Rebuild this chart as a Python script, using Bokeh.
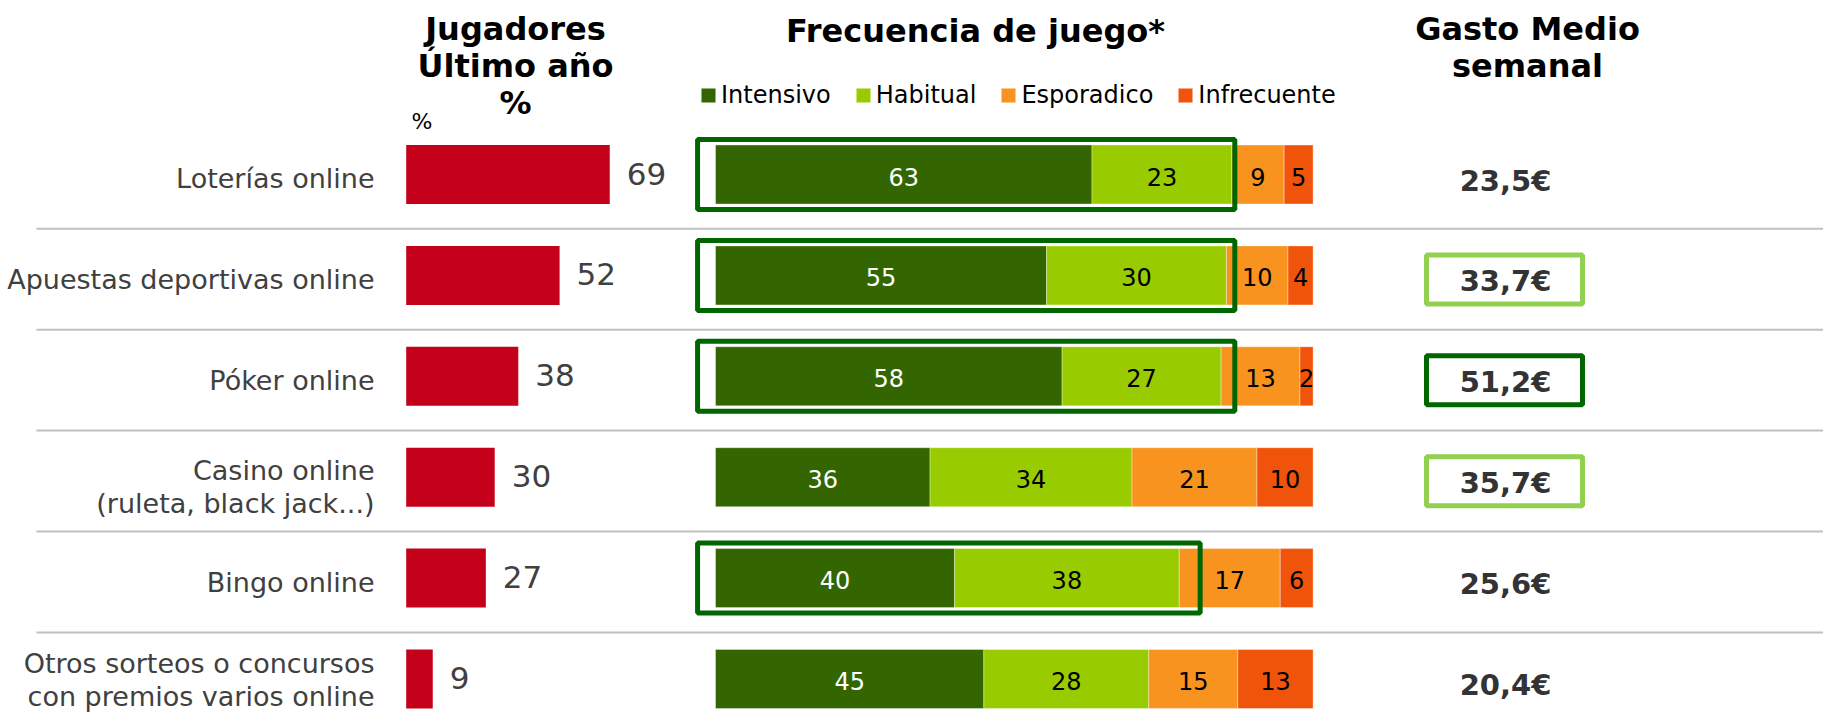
from bokeh.plotting import figure
from bokeh.models import ColumnDataSource, Range1d, Legend, LegendItem
from bokeh.embed import file_html
from bokeh.resources import INLINE
from bokeh.core.properties import value

# ---------------- data ----------------
categories = [
    "Loterías online",
    "Apuestas deportivas online",
    "Póker online",
    "Casino online\n(ruleta, black jack...)",
    "Bingo online",
    "Otros sorteos o concursos\ncon premios varios online",
]
jugadores = [69, 52, 38, 30, 27, 9]

series = ["Intensivo", "Habitual", "Esporadico", "Infrecuente"]
intensivo = [63.0, 55.4, 58.0, 35.9, 40.0, 44.9]
habitual = [23.4, 30.1, 26.6, 33.8, 37.6, 27.6]
esporadico = [8.75, 10.3, 13.2, 20.9, 16.9, 14.9]
infrecuente = [4.85, 4.2, 2.2, 9.4, 5.5, 12.6]

intensivo_lbl = ["63", "55", "58", "36", "40", "45"]
habitual_lbl = ["23", "30", "27", "34", "38", "28"]
esporadico_lbl = ["9", "10", "13", "21", "17", "15"]
infrecuente_lbl = ["5", "4", "2", "10", "6", "13"]

gasto = ["23,5€", "33,7€", "51,2€", "35,7€", "25,6€", "20,4€"]
gasto_marco = [None, "claro", "oscuro", "claro", None, None]
frecuencia_marco_fin = [86.9, 86.9, 86.9, None, 81.1, None]

# ---------------- layout / style ----------------
FIG_W, FIG_H = 1823, 713
ROW0, ROW_PX = 174.0, 100.9
BAR_H = 59 / ROW_PX
RED_X0, RED_SCALE = 405.7, 2.95
FREQ_X0, FREQ_SCALE = 715.0, 5.976
FONT = value("DejaVu Sans")
TXT = "#404040"
colors = ["#336600", "#99CC00", "#F7931E", "#F0540A"]
RED = "#C4001A"
DARK_GREEN = "#006600"
LIGHT_GREEN = "#92D050"
LABEL_PX = 27
LINE_GAP = 33.5

rows = list(range(len(categories)))


def py(px):
    return (px - ROW0) / ROW_PX


p = figure(
    width=FIG_W, height=FIG_H,
    x_range=Range1d(0, FIG_W),
    y_range=Range1d(start=py(FIG_H), end=py(0)),
    output_backend="svg", toolbar_location=None,
    min_border=0, x_axis_type=None, y_axis_type=None,
    outline_line_color=None, background_fill_color="white",
)
p.extra_y_ranges = {"px": Range1d(start=FIG_H, end=0)}
p.extra_x_ranges = {
    "red": Range1d(-RED_X0 / RED_SCALE, (FIG_W - RED_X0) / RED_SCALE),
    "freq": Range1d(-FREQ_X0 / FREQ_SCALE, (FIG_W - FREQ_X0) / FREQ_SCALE),
}

# separators
sep_y = [r + (228.3 - ROW0) / ROW_PX for r in rows[:-1]]
p.segment(x0=[36] * len(sep_y), x1=[FIG_W] * len(sep_y), y0=sep_y, y1=sep_y,
          line_color="#C0C0C0", line_width=2)

# ---------------- category labels ----------------
lx, ly, lt, loff = [], [], [], []
for r, cat in zip(rows, categories):
    lines = cat.split("\n")
    if len(lines) == 1:
        offs = [4]
    else:
        offs = [-7 + LINE_GAP * k for k in range(len(lines))]
        # keep the last line inside the picture
        row_px = ROW0 + r * ROW_PX
        over = row_px + offs[-1] + 0.62 * LABEL_PX - FIG_H
        if over > 0:
            offs = [o - over for o in offs]
    for line, o in zip(lines, offs):
        lx.append(374)
        ly.append(r)
        lt.append(line)
        loff.append(o)
p.text(x="x", y="y", text="t", y_offset="o",
       source=ColumnDataSource(dict(x=lx, y=ly, t=lt, o=loff)),
       text_font=FONT, text_font_size=f"{LABEL_PX}px", text_color=TXT,
       text_align="right", text_baseline="middle")

# ---------------- red bars (jugadores) ----------------
red_src = ColumnDataSource(dict(y=rows, v=jugadores, t=[str(v) for v in jugadores]))
p.hbar(y="y", left=0, right="v", height=BAR_H, source=red_src,
       x_range_name="red", fill_color=RED, line_color=None)
p.text(x="v", y="y", text="t", source=red_src, x_range_name="red",
       x_offset=17, y_offset=-1, text_font=FONT, text_font_size="31px",
       text_color=TXT, text_align="left", text_baseline="middle")

# ---------------- stacked frequency bars ----------------
freq_src = ColumnDataSource(dict(y=rows, Intensivo=intensivo, Habitual=habitual,
                                 Esporadico=esporadico, Infrecuente=infrecuente))
rends = p.hbar_stack(series, y="y", height=BAR_H, color=colors, source=freq_src,
                     x_range_name="freq", line_color="white", line_width=0.6,
                     line_alpha=0.6)

sx, sy, st, sc = [], [], [], []
for i in rows:
    left = 0.0
    vals = [intensivo[i], habitual[i], esporadico[i], infrecuente[i]]
    lbls = [intensivo_lbl[i], habitual_lbl[i], esporadico_lbl[i], infrecuente_lbl[i]]
    for k, (v, lb) in enumerate(zip(vals, lbls)):
        sx.append(left + v / 2)
        sy.append(i)
        st.append(lb)
        sc.append("white" if k == 0 else "black")
        left += v
p.text(x="x", y="y", text="t", text_color="c",
       source=ColumnDataSource(dict(x=sx, y=sy, t=st, c=sc)),
       x_range_name="freq", y_offset=2, text_font=FONT, text_font_size="24px",
       text_align="center", text_baseline="middle")

# highlight boxes on frequency bars
bx_r, bx_y = [], []
for i, end in zip(rows, frecuencia_marco_fin):
    if end is not None:
        bx_r.append(end)
        bx_y.append(i)
half = 35 / ROW_PX
p.quad(left=[-3.0] * len(bx_r), right=bx_r,
       top=[y - half for y in bx_y], bottom=[y + half for y in bx_y],
       x_range_name="freq", fill_color=None, line_color=DARK_GREEN, line_width=5)

# legend
legend = Legend(
    items=[LegendItem(label=s, renderers=[r]) for s, r in zip(series, rends)],
    orientation="horizontal", location=(699, FIG_H - 80.5 - 28),
    glyph_width=18, glyph_height=18, label_standoff=4, spacing=23,
    padding=0, margin=0, border_line_color=None, background_fill_alpha=0,
    label_text_font="DejaVu Sans", label_text_font_size="24px",
    label_text_color="black",
)
p.add_layout(legend)

# ---------------- gasto medio ----------------
g_src = ColumnDataSource(dict(x=[1505] * len(rows), y=rows, t=gasto))
p.text(x="x", y="y", text="t", source=g_src, y_offset=6,
       text_font=FONT, text_font_size="29px", text_font_style="bold",
       text_color="#333333", text_align="center", text_baseline="middle")
for col, name in ((LIGHT_GREEN, "claro"), (DARK_GREEN, "oscuro")):
    ys = [r + 4 / ROW_PX for r, m in zip(rows, gasto_marco) if m == name]
    p.rect(x=[1504] * len(ys), y=ys, width=156, height=49,
           width_units="screen", height_units="screen",
           fill_color=None, line_color=col, line_width=5)

# ---------------- titles ----------------
titles = dict(
    x=[515, 515, 515, 975, 1527, 1527],
    y=[28.5, 65.5, 102.5, 30.5, 28, 65.5],
    t=["Jugadores", "Último año", "%", "Frecuencia de juego*", "Gasto Medio", "semanal"],
)
p.text(x="x", y="y", text="t", source=ColumnDataSource(titles), y_range_name="px",
       text_font=FONT, text_font_size="32px", text_font_style="bold",
       text_color="black", text_align="center", text_baseline="middle")
p.text(x=[411], y=[121], text=["%"], y_range_name="px",
       text_font=FONT, text_font_size="22px", text_color="black",
       text_align="left", text_baseline="middle")

open("out.html", "w").write(file_html(p, INLINE))
